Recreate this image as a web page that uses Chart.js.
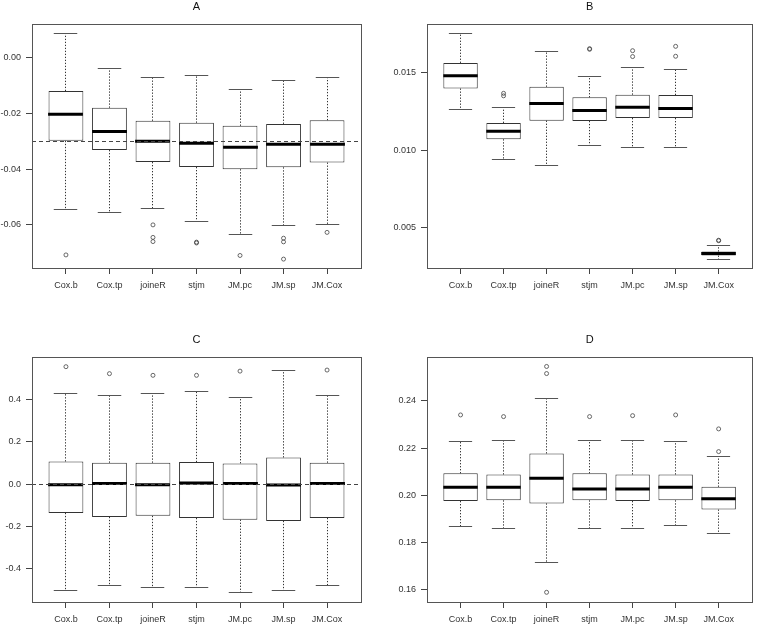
<!DOCTYPE html>
<html>
<head>
<meta charset="utf-8">
<script src="https://cdn.jsdelivr.net/npm/chart.js@4/dist/chart.umd.min.js"></script>
<style>
html,body{margin:0;padding:0;background:#ffffff;}
#wrap{position:relative;width:757px;height:626px;overflow:hidden;background:#fff;}
canvas{position:absolute;}
</style>
</head>
<body>
<div id="wrap">
<canvas id="cA" width="378" height="313" style="left:0;top:0"></canvas>
<canvas id="cB" width="379" height="313" style="left:378px;top:0"></canvas>
<canvas id="cC" width="378" height="313" style="left:0;top:313px"></canvas>
<canvas id="cD" width="379" height="313" style="left:378px;top:313px"></canvas>
</div>
<script>
// ---------- data ----------
const categories = ['Cox.b','Cox.tp','joineR','stjm','JM.pc','JM.sp','JM.Cox'];

// Panel A
const lowerA  = [-0.0545, -0.0555, -0.0540, -0.0587, -0.0636, -0.0604, -0.0598];
const q1A     = [-0.0298, -0.0331, -0.0374, -0.0392, -0.0400, -0.0393, -0.0376];
const medianA = [-0.0202, -0.0264, -0.0299, -0.0307, -0.0321, -0.0310, -0.0310];
const q3A     = [-0.0119, -0.0179, -0.0226, -0.0233, -0.0244, -0.0237, -0.0224];
const upperA  = [0.0087, -0.0039, -0.0070, -0.0062, -0.0114, -0.0082, -0.0071];
const outliersA = [[-0.0708], [], [-0.0600, -0.0645, -0.0660], [-0.0662, -0.0665], [-0.0710], [-0.0648, -0.0661, -0.0723], [-0.0627]];
const ticksA = [-0.06, -0.04, -0.02, 0.00];
const rangeA = [-0.0755, 0.0122];
const refA = -0.03;

// Panel B
const lowerB  = [0.01264, 0.00943, 0.00903, 0.01033, 0.01018, 0.01022, 0.00299];
const q1B     = [0.01399, 0.01072, 0.01192, 0.01190, 0.01209, 0.01209, 0.00322];
const medianB = [0.01481, 0.01123, 0.01303, 0.01258, 0.01279, 0.01271, 0.00335];
const q3B     = [0.01564, 0.01177, 0.01410, 0.01342, 0.01359, 0.01357, 0.00348];
const upperB  = [0.01755, 0.01279, 0.01637, 0.01476, 0.01536, 0.01521, 0.00389];
const outliersB = [[], [0.01368, 0.01352], [], [0.01656, 0.01652], [0.01643, 0.01605], [0.01671, 0.01607], [0.00421, 0.00418]];
const ticksB = [0.005, 0.010, 0.015];
const rangeB = [0.00242, 0.01815];

// Panel C
const lowerC  = [-0.506, -0.483, -0.492, -0.489, -0.516, -0.506, -0.483];
const q1C     = [-0.137, -0.156, -0.151, -0.161, -0.169, -0.175, -0.161];
const medianC = [-0.003, 0.003, -0.003, 0.005, 0.002, -0.005, 0.002];
const q3C     = [0.107, 0.101, 0.101, 0.104, 0.098, 0.126, 0.101];
const upperC  = [0.431, 0.421, 0.432, 0.440, 0.410, 0.541, 0.420];
const outliersC = [[0.557], [0.524], [0.516], [0.516], [0.536], [], [0.541]];
const ticksC = [-0.4, -0.2, 0.0, 0.2, 0.4];
const rangeC = [-0.560, 0.603];
const refC = 0;

// Panel D
const lowerD  = [0.1868, 0.1861, 0.1718, 0.1861, 0.1861, 0.1871, 0.1837];
const q1D     = [0.1976, 0.1979, 0.1966, 0.1979, 0.1976, 0.1979, 0.1940];
const medianD = [0.2034, 0.2034, 0.2072, 0.2027, 0.2027, 0.2034, 0.1986];
const q3D     = [0.2093, 0.2088, 0.2177, 0.2093, 0.2088, 0.2088, 0.2036];
const upperD  = [0.2226, 0.2230, 0.2408, 0.2230, 0.2234, 0.2226, 0.2163];
const outliersD = [[0.2340], [0.2333], [0.2545, 0.2515, 0.1590], [0.2333], [0.2337], [0.2340], [0.2281, 0.2185]];
const ticksD = [0.16, 0.18, 0.20, 0.22, 0.24];
const rangeD = [0.1549, 0.2585];

// ---------- drawing ----------
Chart.defaults.font.family = "'Liberation Sans', Arial, sans-serif";
Chart.defaults.font.size = 9;
Chart.defaults.color = '#333';

function crisp(v){ return Math.round(v - 0.5) + 0.5; }

const boxExtras = {
  id: 'boxExtras',
  afterDatasetsDraw(chart, args, o) {
    const {ctx, chartArea: ca, scales: {x, y}} = chart;
    const s = o.stats;
    ctx.save();
    for (let i = 0; i < categories.length; i++) {
      const pos = i + 1;
      const cx = crisp(x.getPixelForValue(pos));
      const hw = x.getPixelForValue(pos + 0.4) - x.getPixelForValue(pos);
      const cw = x.getPixelForValue(pos + 0.27) - x.getPixelForValue(pos);
      const yU = y.getPixelForValue(s.upper[i]);
      const yQ3 = y.getPixelForValue(s.q3[i]);
      const yQ1 = y.getPixelForValue(s.q1[i]);
      const yL = y.getPixelForValue(s.lower[i]);
      const yM = y.getPixelForValue(s.median[i]);
      // whiskers (dotted)
      ctx.strokeStyle = '#333';
      ctx.lineWidth = 1;
      ctx.setLineDash([1.3, 1.7]);
      ctx.beginPath();
      ctx.moveTo(cx, yQ3); ctx.lineTo(cx, yU);
      ctx.moveTo(cx, yQ1); ctx.lineTo(cx, yL);
      ctx.stroke();
      // caps
      ctx.setLineDash([]);
      ctx.strokeStyle = '#555';
      ctx.beginPath();
      ctx.moveTo(cx - cw, crisp(yU)); ctx.lineTo(cx + cw, crisp(yU));
      ctx.moveTo(cx - cw, crisp(yL)); ctx.lineTo(cx + cw, crisp(yL));
      ctx.stroke();
      // median
      ctx.strokeStyle = '#000';
      ctx.lineWidth = 3;
      ctx.beginPath();
      ctx.moveTo(cx - hw, yM); ctx.lineTo(cx + hw, yM);
      ctx.stroke();
    }
    // reference line
    if (o.ref !== null && o.ref !== undefined) {
      const yr = crisp(y.getPixelForValue(o.ref));
      ctx.strokeStyle = '#444';
      ctx.lineWidth = 1;
      ctx.setLineDash([4, 3]);
      ctx.beginPath();
      ctx.moveTo(ca.left, yr); ctx.lineTo(ca.right, yr);
      ctx.stroke();
      ctx.setLineDash([]);
    }
    // frame
    ctx.strokeStyle = '#555';
    ctx.lineWidth = 1;
    ctx.strokeRect(crisp(ca.left), crisp(ca.top), Math.round(ca.right - ca.left), Math.round(ca.bottom - ca.top));
    ctx.restore();
  }
};

function makePanel(id, title, stats, outliers, tickVals, range, decimals, ref, lay) {
  const boxes = categories.map((c, i) => ({x: i + 1, y: [stats.q1[i], stats.q3[i]]}));
  const pts = outliers.flatMap((arr, i) => arr.map(v => ({x: i + 1, y: v})));
  new Chart(document.getElementById(id), {
    type: 'bar',
    data: {
      datasets: [
        {
          type: 'bar',
          data: boxes,
          backgroundColor: '#ffffff',
          borderColor: '#333',
          borderWidth: 1,
          borderSkipped: false,
          barPercentage: 0.8,
          categoryPercentage: 1.0
        },
        {
          type: 'scatter',
          data: pts,
          showLine: false,
          pointStyle: 'circle',
          pointRadius: 2,
          pointBorderWidth: 0.8,
          pointBorderColor: '#444',
          pointBackgroundColor: 'rgba(0,0,0,0)'
        }
      ]
    },
    options: {
      responsive: false,
      animation: false,
      events: [],
      layout: {padding: {top: lay.padTop, right: lay.padRight, left: 0, bottom: 0}},
      plugins: {
        legend: {display: false},
        tooltip: {enabled: false},
        title: {
          display: true, text: title, fullSize: false,
          color: '#111',
          font: {size: 11, weight: 'normal'},
          padding: {top: 0.4, bottom: 10.4}
        },
        boxExtras: {stats: stats, ref: ref}
      },
      scales: {
        x: {
          type: 'linear',
          offset: false,
          min: 0.22, max: 7.78,
          afterBuildTicks: (sc) => { sc.ticks = categories.map((c, i) => ({value: i + 1})); },
          afterFit: (sc) => { sc.height = lay.xHeight; },
          ticks: {
            callback: (v) => categories[Math.round(v) - 1] || '',
            padding: 6, maxRotation: 0, autoSkip: false, color: '#333'
          },
          grid: {display: true, offset: false, drawOnChartArea: false, drawTicks: true, tickLength: 6, tickColor: '#444'},
          border: {display: false}
        },
        y: {
          type: 'linear',
          min: range[0], max: range[1],
          afterBuildTicks: (sc) => { sc.ticks = tickVals.map(v => ({value: v})); },
          afterFit: (sc) => { sc.width = lay.yWidth; },
          ticks: {
            callback: (v) => Number(v).toFixed(decimals),
            padding: 5, color: '#333'
          },
          grid: {display: true, drawOnChartArea: false, drawTicks: true, tickLength: 6, tickColor: '#444'},
          border: {display: false}
        }
      }
    },
    plugins: [boxExtras]
  });
}

makePanel('cA', 'A', {lower: lowerA, q1: q1A, median: medianA, q3: q3A, upper: upperA}, outliersA,
  ticksA, rangeA, 2, refA, {padTop: 0, padRight: 17, xHeight: 45, yWidth: 32});
makePanel('cB', 'B', {lower: lowerB, q1: q1B, median: medianB, q3: q3B, upper: upperB}, outliersB,
  ticksB, rangeB, 3, null, {padTop: 0, padRight: 2, xHeight: 45, yWidth: 49});
makePanel('cC', 'C', {lower: lowerC, q1: q1C, median: medianC, q3: q3C, upper: upperC}, outliersC,
  ticksC, rangeC, 1, refC, {padTop: 20, padRight: 17, xHeight: 24, yWidth: 32});
makePanel('cD', 'D', {lower: lowerD, q1: q1D, median: medianD, q3: q3D, upper: upperD}, outliersD,
  ticksD, rangeD, 2, null, {padTop: 20, padRight: 2, xHeight: 24, yWidth: 49});
</script>
</body>
</html>
